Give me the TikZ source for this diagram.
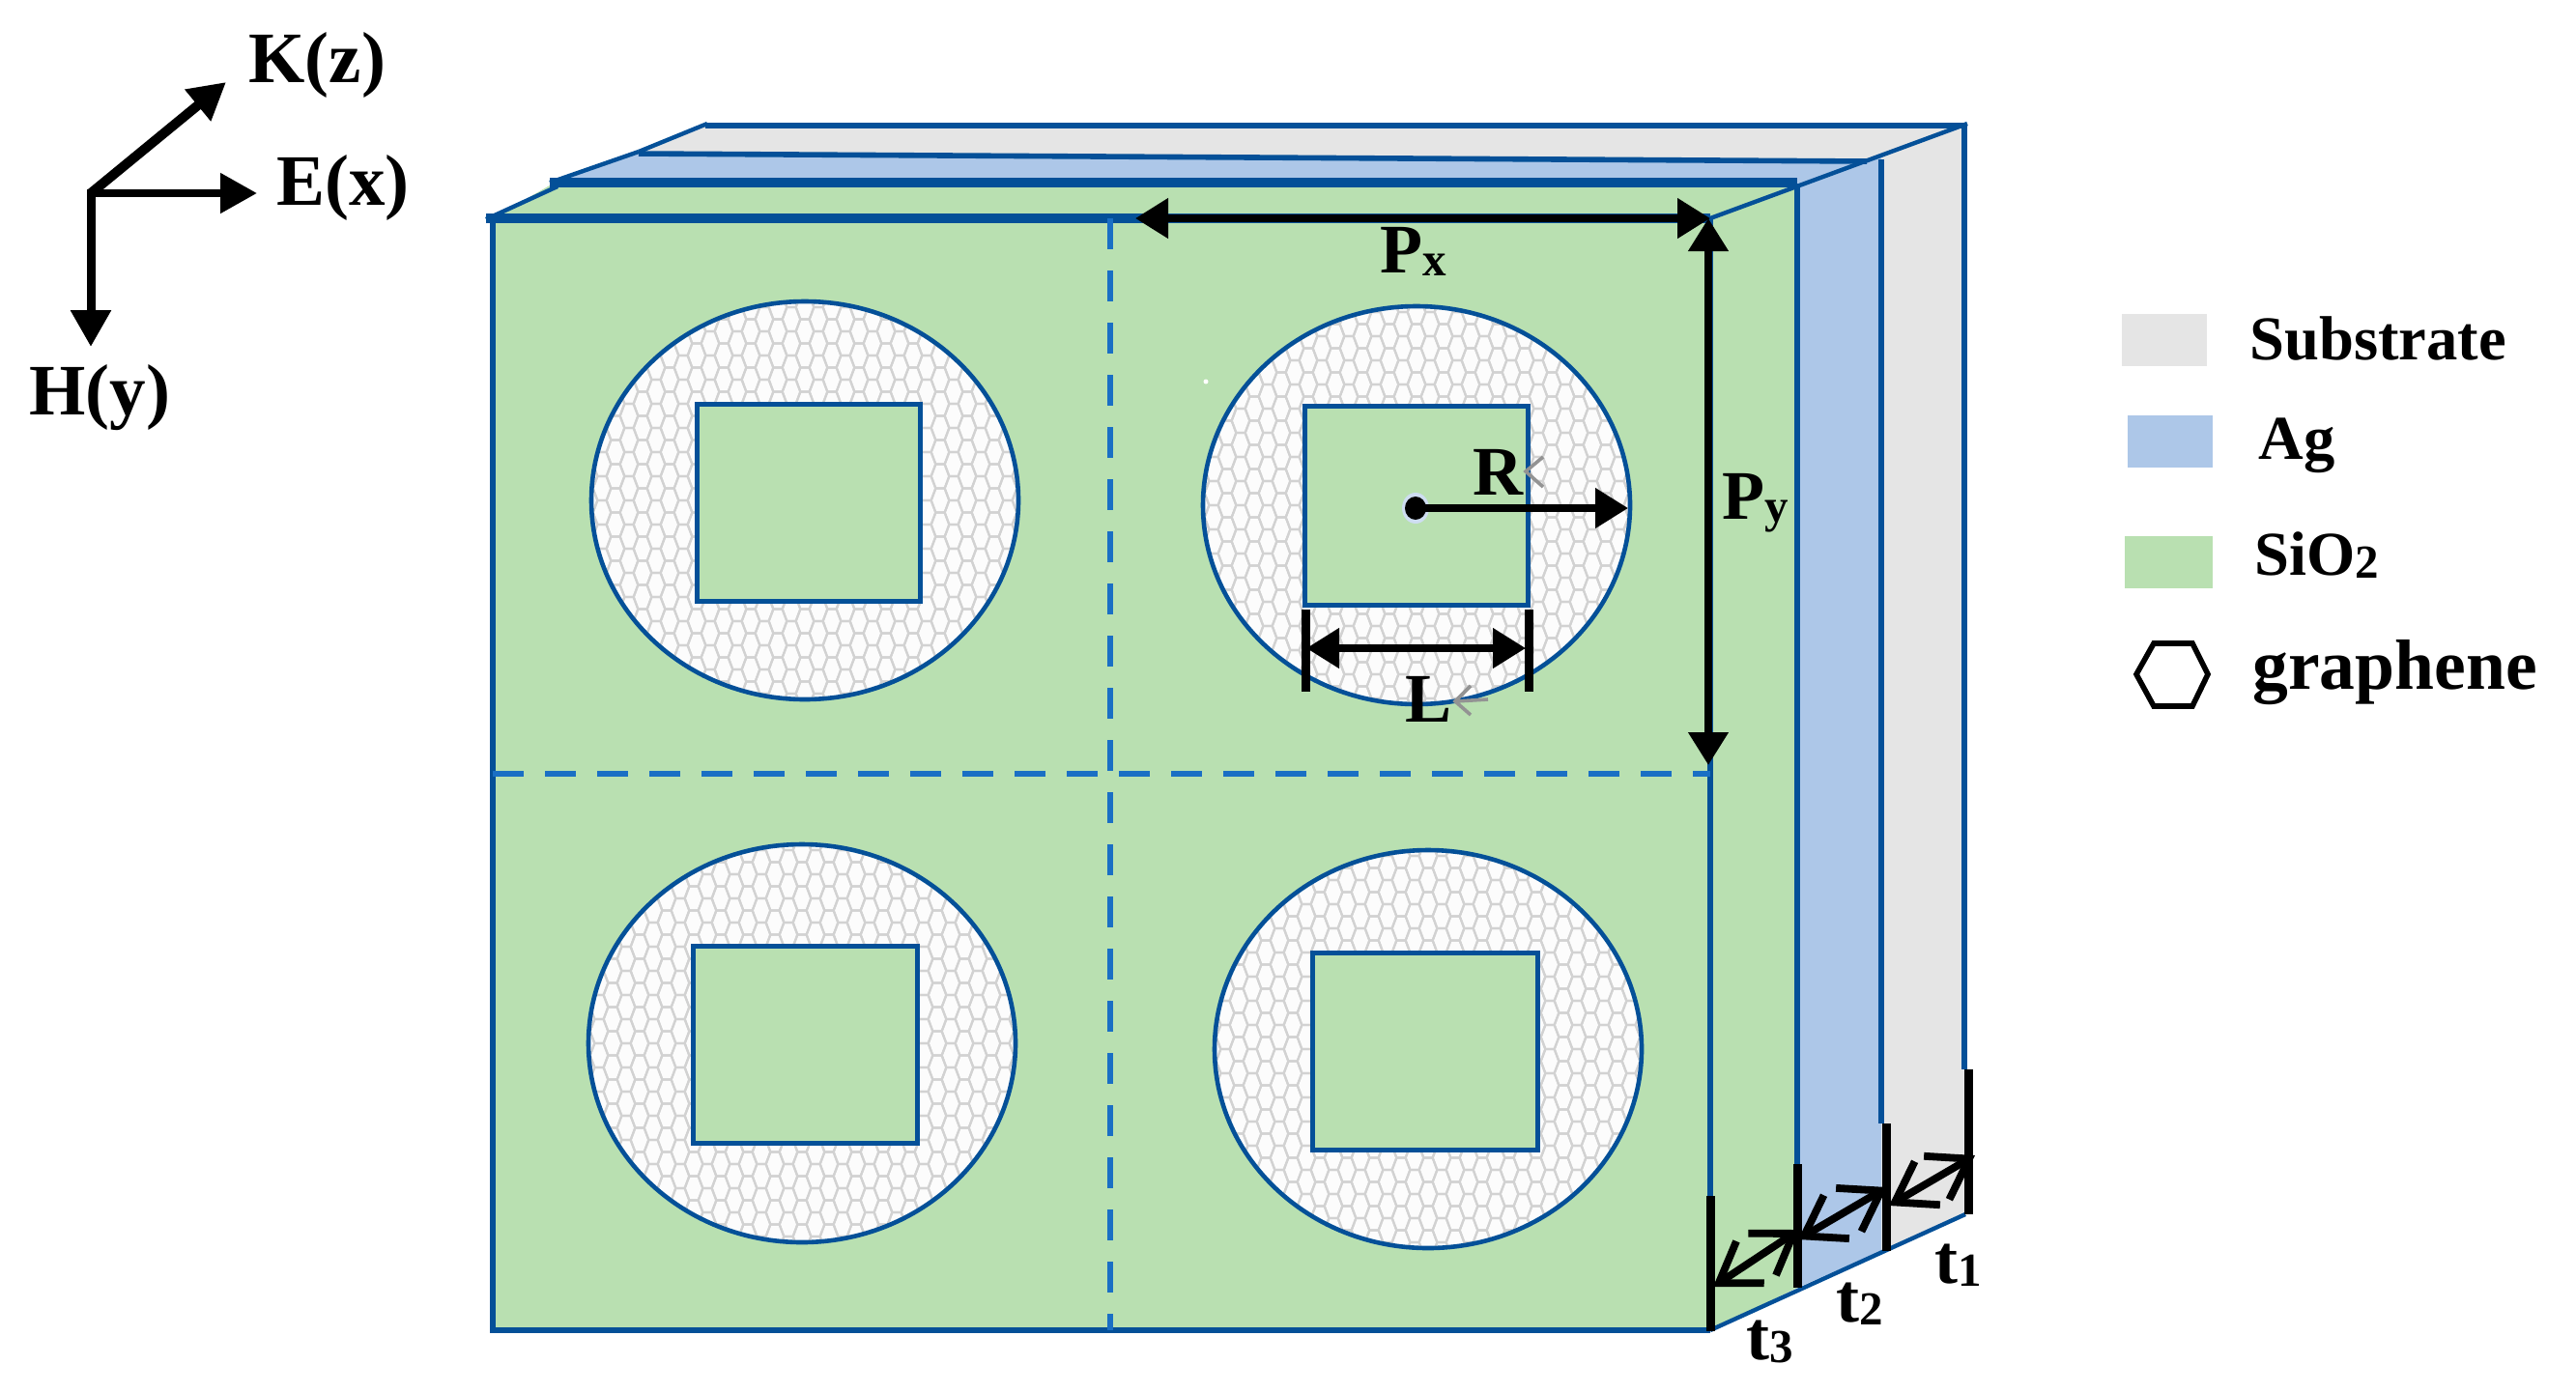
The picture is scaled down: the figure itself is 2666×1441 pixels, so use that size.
\documentclass[tikz,border=0pt]{standalone}
\usepackage{fontspec}
\setmainfont{Liberation Serif}
\usetikzlibrary{arrows.meta}
\definecolor{sio}{HTML}{B9E0B1}
\definecolor{agc}{HTML}{ADC7E8}
\definecolor{subc}{HTML}{E5E5E5}
\definecolor{edge}{HTML}{045098}
\definecolor{dashc}{HTML}{1A6FC4}
\definecolor{hexl}{HTML}{D2D2D2}
\definecolor{hexf}{HTML}{FCFCFC}
\tikzset{
  outline/.style={draw=edge,line width=2.8pt,line join=miter},
  slant/.style={draw=edge,line width=2.2pt},
  patchline/.style={draw=edge,line width=2.3pt},
  thickedge/.style={draw=edge,line width=5pt},
  cell/.style={draw=dashc,line width=2.6pt,dash pattern=on 16pt off 11pt},
  hexline/.style={draw=hexl,line width=1.1pt},
  axisarrow/.style={line width=4pt,-{Triangle[length=19pt,width=20pt]}},
  dimarrow/.style={line width=3.8pt,{Triangle[length=17pt,width=20pt]}-{Triangle[length=17pt,width=20pt]}},
  tickbar/.style={line width=4.5pt},
  tarrow/.style={line width=3.9pt,{Straight Barb[length=19.5pt,width=26pt,line width=3.9pt]}-{Straight Barb[length=19.5pt,width=26pt,line width=3.9pt]}},
  graymark/.style={draw=gray!85,line width=1.8pt},
  lab/.style={anchor=base west,inner sep=0pt,font=\bfseries\fontsize{37.5pt}{37.5pt}\selectfont},
  leg/.style={anchor=base west,inner sep=0pt,font=\bfseries\fontsize{32.3pt}{32.3pt}\selectfont},
  dim/.style={anchor=base west,inner sep=0pt,font=\bfseries\fontsize{36pt}{36pt}\selectfont},
  gra/.style={anchor=base west,inner sep=0pt,font=\bfseries\fontsize{36.8pt}{36.8pt}\selectfont},
}
\newcommand{\subt}[1]{\raisebox{-1.5pt}{\fontsize{24.5pt}{24.5pt}\selectfont #1}}
\newcommand{\honey}[4]{%
  \begin{scope}
    \clip (#1,#2) ellipse [x radius=#3,y radius=#4];
    \fill[hexf] (#1,#2) ellipse [x radius=#3,y radius=#4];
    \foreach \i in {-17,...,17}{%
      \pgfmathsetmacro{\ox}{#1+14*\i}%
      \pgfmathsetmacro{\oy}{#2+12.5*mod(abs(\i),2)}%
      \foreach \j in {-9,...,9}{%
        \draw[hexline] ({\ox-9.33},{\oy+25*\j}) -- ++(4.67,-12.5) -- ++(9.33,0) -- ++(4.67,12.5) -- ++(-4.67,12.5) -- ++(-9.33,0) -- cycle;
      }%
    }
  \end{scope}
  \draw[patchline] (#1,#2) ellipse [x radius=#3,y radius=#4];
}
\begin{document}
\begin{tikzpicture}[x=0.5pt,y=-0.5pt]
\useasboundingbox (0,0) rectangle (2666,1441);
\fill[white] (0,0) rectangle (2666,1441);

% named points
\coordinate (fTL) at (510,226);
\coordinate (fTR) at (1770,226);
\coordinate (fBR) at (1770,1377);
\coordinate (fBL) at (510,1377);
\coordinate (o) at (94,200);

% substrate
\fill[subc] (730,130) -- (2034,130) -- (1947,165) -- (661,158) -- cycle;
\fill[subc] (1947,162) -- (2034,130) -- (2034,1257) -- (1947,1295) -- cycle;
% silver
\fill[agc] (661,158) -- (1947,165) -- (1860,193) -- (574,189) -- cycle;
\fill[agc] (1860,193) -- (1947,162) -- (1947,1295) -- (1860,1333) -- cycle;
% oxide
\fill[sio] (574,189) -- (1860,190) -- (1770,226) -- (510,226) -- cycle;
\fill[sio] (1770,226) -- (1860,192) -- (1860,1333) -- (1770,1377) -- cycle;
% front
\fill[sio] (fTL) rectangle (fBR);

% edges of the layers
\draw[outline] (730,130) -- (2034,130);
\draw[outline] (661,159) -- (1932,167);
\draw[thickedge] (569,189) -- (1860,189);
\draw[slant] (503,227) -- (577,193);
\draw[slant] (569,189) -- (661,157);
\draw[slant] (661,157) -- (732,128);
\draw[slant] (fTR) -- (2036,128);
\draw[outline] (1860,190) -- (1860,1205);
\draw[outline] (1947,165) -- (1947,1163);
\draw[outline] (2033,130) -- (2033,1107);
\draw[outline] (fTR) -- (fBR);
\draw[slant] (fBR) -- (2034,1257);
\draw[outline] (fBR) -- (fBL) -- (fTL);
\draw[thickedge] (503,226) -- (fTR);

% cell borders
\draw[cell] (1149,226) -- (1149,1377);
\draw[cell] (510,801) -- (1770,801);

% patches
\honey{833}{518}{221}{206}
\honey{1466}{523}{221}{206}
\honey{830}{1080}{221}{206}
\honey{1478}{1086}{221}{206}
\draw[patchline,line width=2.5pt,fill=sio] (721,418) rectangle (952,622);
\draw[patchline,line width=2.5pt,fill=sio] (1350,420) rectangle (1581,626);
\draw[patchline,line width=2.5pt,fill=sio] (717,979) rectangle (949,1183);
\draw[patchline,line width=2.5pt,fill=sio] (1358,986) rectangle (1591,1190);
\fill[white] (1248,395) circle [radius=2.5];

% axes
\coordinate (kt) at (234,85);
\coordinate (et) at (266,200);
\coordinate (ht) at (94,359);
\draw[axisarrow,line width=5pt] (o) -- (kt);
\draw[axisarrow] (o) -- (et);
\draw[axisarrow,line width=4.5pt] (94,196) -- (ht);
\node[lab] (kl) at (257,85) {K(z)};
\node[lab] (el) at (286,212) {E(x)};
\node[lab] (hl) at (30,429) {H(y)};

% period arrows
\coordinate (pxa) at (1175,226);
\draw[dimarrow] (pxa) -- (fTR);
\coordinate (pye) at (1768,792);
\draw[dimarrow] (1768,226) -- (pye);
\node[dim] (px) at (1428,282) {P\subt{x}};
\node[dim] (py) at (1782,537) {P\subt{y}};

% R
\coordinate (rc) at (1465,526);
\coordinate (re) at (1685,526);
\fill[agc!60!white] (rc) ellipse [x radius=14,y radius=16];
\fill[black] (rc) ellipse [x radius=11,y radius=12];
\draw[line width=3.8pt,-{Triangle[length=17pt,width=20pt]}] (rc) -- (re);
\node[dim] (rl) at (1524,512) {R};
\draw[graymark] (1597,473) -- (1579,488) -- (1597,504);

% L
\coordinate (la) at (1352,671);
\coordinate (lb) at (1579,671);
\draw[tickbar] (1351,631) -- (1351,716);
\draw[tickbar] (1582,631) -- (1582,716);
\draw[dimarrow] (la) -- (lb);
\node[dim] (ll) at (1454,747) {L};
\draw[graymark] (1522,710) -- (1506,726) -- (1522,740);
\draw[graymark] (1506,726) -- (1540,724);

% thickness bars
\coordinate (b0t) at (1770,1238); \coordinate (b0b) at (1770,1378);
\coordinate (b1t) at (1860,1205); \coordinate (b1b) at (1860,1333);
\coordinate (b2t) at (1952,1163); \coordinate (b2b) at (1952,1295);
\coordinate (b3t) at (2037,1107); \coordinate (b3b) at (2037,1257);
\draw[tickbar] (b0t) -- (b0b);
\draw[tickbar] (b1t) -- (b1b);
\draw[tickbar] (b2t) -- (b2b);
\draw[tickbar] (b3t) -- (b3b);
\draw[tarrow] (1773,1332) -- (1862,1273);
\draw[tarrow] (1861,1283) -- (1953,1229);
\draw[tarrow] (1955,1248) -- (2044,1196);
\node[dim] (t3) at (1807,1407) {t\subt{3}};
\node[dim] (t2) at (1900,1368) {t\subt{2}};
\node[dim] (t1) at (2002,1328) {t\subt{1}};

% legend
\fill[subc] (2196,325) rectangle (2284,379);
\fill[agc] (2202,430) rectangle (2290,484);
\fill[sio] (2199,555) rectangle (2290,609);
\draw[line width=2.8pt,line join=miter] (2211,698) -- (2229,666) -- (2269,666) -- (2285,698) -- (2269,731) -- (2229,731) -- cycle;
\node[leg] (ls) at (2328,372) {Substrate};
\node[leg] (la2) at (2337,475) {Ag};
\node[leg] (lo) at (2333,595) {SiO\subt{2}};
\node[gra] (lg) at (2331,713) {graphene};
\end{tikzpicture}
\end{document}
